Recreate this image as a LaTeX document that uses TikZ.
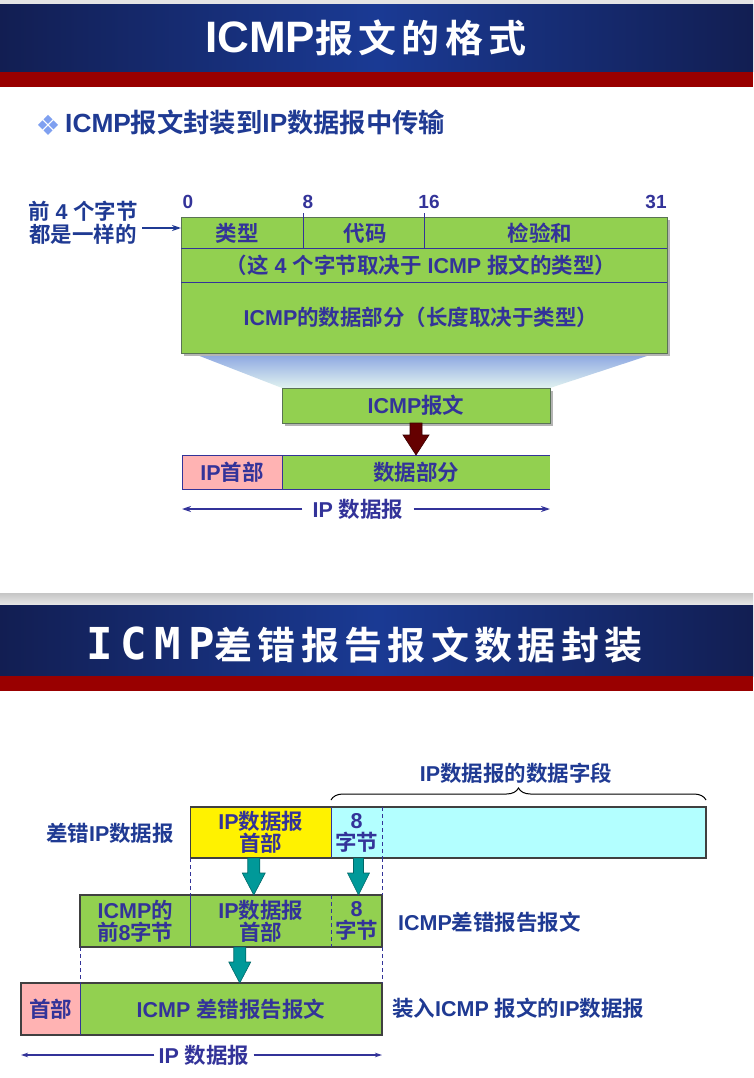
\documentclass[tikz,border=0pt]{standalone}
\usepackage{fontspec}
\setmainfont{Liberation Sans}
\newfontfamily\latb{Liberation Sans Bold}
\newfontfamily\zhfont{Noto Sans CJK SC Bold}
\newfontfamily\zhtitle{Noto Sans CJK SC Bold}[LetterSpace=14]
\newfontfamily\monotitle{DejaVu Sans Mono Bold}[LetterSpace=17]
\usetikzlibrary{calc,arrows.meta,decorations.pathreplacing,shadows}

% Chinese run inside Latin text
\newcommand\Z[1]{{\zhfont #1}}
\newcommand\lblfont{\latb\fontsize{21.5}{22}\selectfont\lineskiplimit=-50pt\relax}
\newcommand\leadfont{\latb\fontsize{21.5}{23.5}\selectfont\lineskiplimit=-50pt\relax}

\definecolor{bnavy}{HTML}{121E52}
\definecolor{bblue}{HTML}{1A3A94}
\definecolor{bred}{HTML}{990000}
\definecolor{topgray}{HTML}{E4E4E4}
\definecolor{ink}{HTML}{333399}
\definecolor{inkb}{HTML}{1F3A93}
\definecolor{grn}{HTML}{92D050}
\definecolor{grnedge}{HTML}{5A7355}
\definecolor{pinkbox}{HTML}{FFB3B3}
\definecolor{cyanbox}{HTML}{B3FFFF}
\definecolor{tealfill}{HTML}{009999}
\definecolor{tealedge}{HTML}{006868}
\definecolor{arrred}{HTML}{650000}
\definecolor{arrrededge}{HTML}{3A0000}
\definecolor{trapTop}{HTML}{8EA8E2}
\definecolor{trapBot}{HTML}{E0F2F0}
\definecolor{shadowgray}{HTML}{B4B4B4}
\definecolor{bulletblue}{HTML}{7FA0F0}

% block arrow: start, tip, shaft half width, head half width, head length, style
\newcommand\blockarrow[6]{%
  \filldraw[#6] ($(#1)+(-#3,0)$) -- ($(#2)+(-#3,-#5)$) -- ($(#2)+(-#4,-#5)$) -- (#2)
    -- ($(#2)+(#4,-#5)$) -- ($(#2)+(#3,-#5)$) -- ($(#1)+(#3,0)$) -- cycle;}

\begin{document}
\begin{tikzpicture}[x=1pt,y=-1pt,
  lbl/.style={font=\lblfont, text=ink, inner sep=0pt, align=center},
  side/.style={lbl, text=inkb},
  num/.style={anchor=base, font=\latb\fontsize{19}{19}\selectfont, text=ink, inner sep=0pt},
  cell/.style={rectangle, inner sep=0pt, outer sep=0pt, anchor=north west},
  greencell/.style={cell, fill=grn, draw=grnedge, line width=0.9pt},
  boxshadow/.style={drop shadow={shadow xshift=3pt, shadow yshift=-3pt, fill=shadowgray, opacity=1}},
  navyline/.style={draw=ink, line width=0.9pt},
  edgeline/.style={draw=black!75, line width=1.1pt},
  dashline/.style={draw=ink, line width=0.9pt, dash pattern=on 4pt off 3pt},
  dgarrow/.style={draw=ink, line width=2pt, -{Stealth[length=9pt,width=6pt]}},
  dgarrowthin/.style={draw=ink, line width=1.2pt, -{Stealth[length=7pt,width=4.5pt]}},
  leadarrow/.style={draw=inkb, line width=2pt, -{Stealth[length=9pt,width=6pt]}},
  tealarrow/.style={fill=tealfill, draw=tealedge, line width=0.6pt},
  redarrow/.style={fill=arrred, draw=arrrededge, line width=0.6pt},
  brc/.style={draw=black, line width=1pt, decorate, decoration={brace, amplitude=12pt}}
]
\useasboundingbox (0,0) rectangle (753,1078);
\fill[white] (0,0) rectangle (753,1078);

% ---------- first slide: header ----------
\fill[topgray] (0,0) rectangle (753,5);
\shade[left color=bnavy, right color=bnavy, middle color=bblue] (0,5) rectangle (753,72);
\fill[bred] (0,72) rectangle (753,87);
\node[anchor=base west, inner sep=0pt, text=white, font=\latb\fontsize{44}{44}\selectfont]
  (title1) at (205,53) {ICMP{\fontsize{38}{38}\zhtitle 报文的格式}};

% bullet and subtitle
\foreach \dx/\dy in {-5.5/0,5.5/0,0/-5.5,0/5.5}
  \fill[bulletblue] ($(48,125)+(\dx,\dy)$) +(-4.5,0) -- +(0,-4.5) -- +(4.5,0) -- +(0,4.5) -- cycle;
\node[anchor=base west, inner sep=0pt, text=inkb, font=\latb\fontsize{26.3}{26.3}\selectfont]
  (sub1) at (65,133) {ICMP\Z{报文封装到}IP\Z{数据报中传输}};

% bit positions
\node[num] (b0) at (188,208) {0};
\node[num] (b8) at (308,208) {8};
\node[num] (b16) at (429,208) {16};
\node[num] (b31) at (656,208) {31};

% funnel from the message format down to the ICMP message
\shade[top color=trapTop, bottom color=trapBot] (197,355) -- (650,355) -- (550,388) -- (282,388) -- cycle;

% ICMP message format
\node[greencell, boxshadow, minimum width=486pt, minimum height=136pt] (fmt) at (181,217) {};
\draw[navyline] (181,248) -- (667,248);
\draw[navyline] (181,282) -- (667,282);
\draw[navyline] (303,213) -- (303,248);
\draw[navyline] (424,213) -- (424,248);
\node[lbl] (ftype) at (237,233) {\Z{类型}};
\node[lbl] (fcode) at (365,233) {\Z{代码}};
\node[lbl] (fsum) at (540,233) {\Z{检验和}};
\node[lbl] (frow2) at (421,265) {\Z{（这} 4 \Z{个字节取决于} ICMP \Z{报文的类型）}};
\node[lbl] (frow3) at (421,317) {ICMP\Z{的数据部分（长度取决于类型）}};

% note on the first four bytes
\node[lbl, text=inkb, font=\leadfont] (lead) at (83,223) {\Z{前} 4 \Z{个字节}\\\Z{都是一样的}};
\coordinate (leadout) at ([xshift=4pt,yshift=-5pt]lead.east);
\draw[leadarrow] (leadout) -- (leadout -| fmt.west);

% ICMP message and the IP datagram carrying it
\node[greencell, boxshadow, minimum width=268pt, minimum height=35pt, lbl] (msg) at (282,388) {ICMP\Z{报文}};
\node[cell, lbl, fill=pinkbox, minimum width=100pt, minimum height=34pt] (iphdr) at (182,455) {IP\Z{首部}};
\node[cell, lbl, fill=grn, minimum width=268pt, minimum height=34pt] (ipd) at (282,455) {\Z{数据部分}};
\draw[navyline] (iphdr.south west) -- (iphdr.north west) -- (ipd.north east);
\draw[navyline] (iphdr.south west) -- (ipd.south east);
\draw[navyline] (ipd.north west) -- (ipd.south west);
\coordinate (r1e) at (msg.south |- ipd.north);
\blockarrow{msg.south}{r1e}{6}{13}{20}{redarrow}

\node[lbl, inner xsep=10pt] (dg1) at (358,509) {IP \Z{数据报}};
\draw[dgarrow] (dg1.west) -- (dg1.west -| iphdr.west);
\draw[dgarrow] (dg1.east) -- (dg1.east -| ipd.east);

% ---------- second slide: header ----------
\shade[top color=gray!45, bottom color=gray!18] (0,593) rectangle (753,605);
\shade[left color=bnavy, right color=bnavy, middle color=bblue] (0,605) rectangle (753,676);
\fill[bred] (0,676) rectangle (753,691);
\node[anchor=base west, inner sep=0pt, text=white]
  (title2) at (86,659) {{\fontsize{44}{44}\monotitle ICMP}{\fontsize{38}{38}\zhtitle 差错报告报文数据封装}};

% erroneous IP datagram
\node[cell, lbl, fill=yellow, minimum width=140.5pt, minimum height=51pt] (ya) at (190.5,807) {IP\Z{数据报}\\\Z{首部}};
\node[cell, lbl, fill=cyanbox, minimum width=51pt, minimum height=51pt] (ca) at (ya.north east) {8\\\Z{字节}};
\node[cell, fill=cyanbox, minimum width=324pt, minimum height=51pt] (cb) at (ca.north east) {};
\draw[edgeline] (ya.north west) rectangle (cb.south east);
\draw[navyline] (ya.north east) -- (ya.south east);
\draw[dashline] (ca.north east) -- (ca.south east);
\node[side] (lblerr) at (110,833) {\Z{差错}IP\Z{数据报}};
\draw[brc] ([yshift=7pt]ca.north west) -- ([yshift=7pt]cb.north east);
\node[side] (lblfield) at (516,773) {IP\Z{数据报的数据字段}};

% ICMP error message
\node[cell, lbl, fill=grn, minimum width=110.5pt, minimum height=52pt] (ra) at (80,895) {ICMP\Z{的}\\\Z{前}8\Z{字节}};
\node[cell, lbl, fill=grn, minimum width=140.5pt, minimum height=52pt] (rb) at (ra.north east) {IP\Z{数据报}\\\Z{首部}};
\node[cell, lbl, fill=grn, minimum width=51pt, minimum height=52pt] (rc) at (rb.north east) {8\\\Z{字节}};
\draw[edgeline] (ra.north west) rectangle (rc.south east);
\draw[navyline] (ra.north east) -- (ra.south east);
\draw[dashline] (rb.north east) -- (rb.south east);
\node[side, anchor=west] (lblmsg) at (398,922) {ICMP\Z{差错报告报文}};

\draw[dashline] (ya.south west) -- (rb.north west);
\draw[dashline] (ca.south east) -- (rc.north east);
\coordinate (t1s) at ([xshift=-7pt]ya.south);
\coordinate (t1e) at (t1s |- rb.north);
\blockarrow{t1s}{t1e}{6}{11.5}{22}{tealarrow}
\coordinate (t2s) at ([xshift=2pt]ca.south);
\coordinate (t2e) at (t2s |- rc.north);
\blockarrow{t2s}{t2e}{5}{11}{22}{tealarrow}

% IP datagram carrying the ICMP error message
\node[cell, lbl, fill=pinkbox, minimum width=59pt, minimum height=52pt] (lp) at (21,983) {\Z{首部}};
\node[cell, lbl, fill=grn, minimum width=302pt, minimum height=52pt] (lg) at (lp.north east) {ICMP \Z{差错报告报文}};
\draw[edgeline] (lp.north west) rectangle (lg.south east);
\draw[navyline] (lp.north east) -- (lp.south east);
\node[side, anchor=west] (lblcarry) at (392,1008) {\Z{装入}ICMP \Z{报文的}IP\Z{数据报}};

\draw[dashline] (ra.south west) -- (lg.north west);
\draw[dashline] (rc.south east) -- (lg.north east);
\coordinate (t3s) at ([xshift=-21pt]rb.south);
\coordinate (t3e) at (t3s |- lg.north);
\blockarrow{t3s}{t3e}{6}{11}{21}{tealarrow}

\node[lbl, inner xsep=4pt] (dg2) at (204,1055) {IP \Z{数据报}};
\draw[dgarrowthin] (dg2.west) -- (dg2.west -| lp.west);
\draw[dgarrowthin] (dg2.east) -- (dg2.east -| lg.east);
\end{tikzpicture}
\end{document}
